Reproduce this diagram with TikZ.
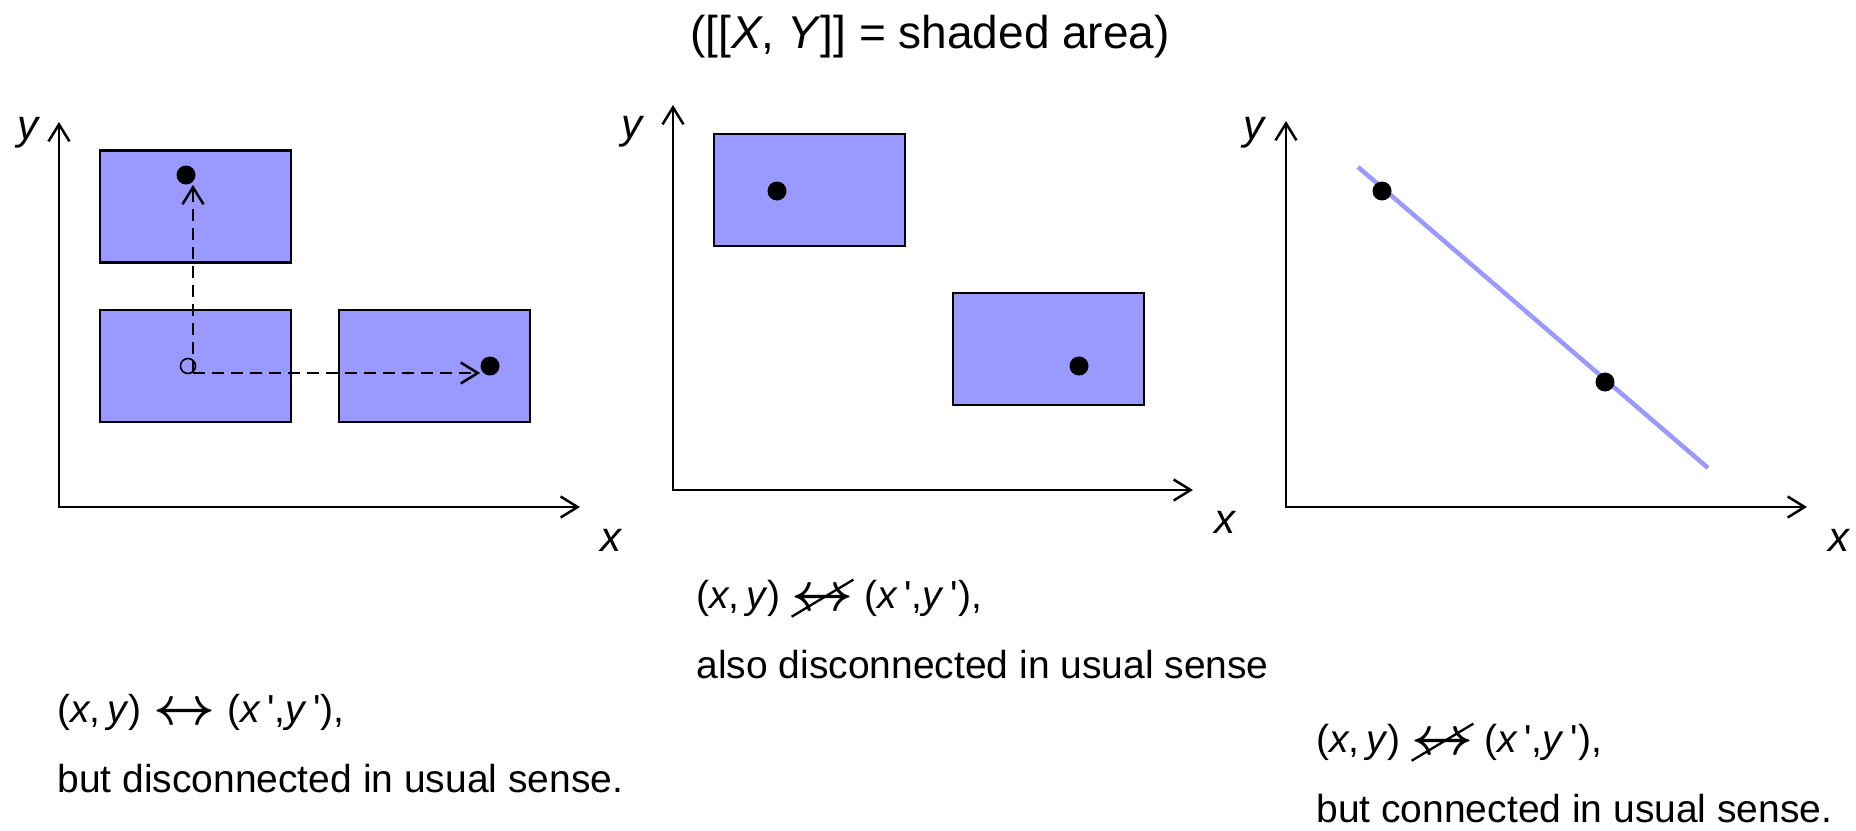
\documentclass[tikz,border=0pt]{standalone}
\usepackage{fontspec}
\setmainfont{Liberation Sans}
\usetikzlibrary{arrows.meta, positioning}
\definecolor{ShadeFill}{HTML}{9999FF}

\newcommand{\pxy}{(\textit{x},\,\textit{y})}
\newcommand{\pxyp}{(\textit{x}\,\textquotesingle,\textit{y}\,\textquotesingle)}
\newcommand{\lrarr}{\raisebox{-0.07em}{\scalebox{1.3}[1.3]{\boldmath$\leftrightarrow$}}}
\newcommand{\nlrarr}{\ooalign{\lrarr\cr\hidewidth\raisebox{-0.25em}{\rotatebox{31}{\rule{1.85em}{0.06em}}}\hidewidth\cr}}

\begin{document}
\begin{tikzpicture}[
    x=0.5pt, y=-0.5pt,
    region/.style={
        rectangle, draw=black, line width=1.2pt, fill=ShadeFill,
        minimum width=95.5pt, minimum height=56pt, inner sep=0pt
    },
    dot/.style={circle, fill=black, inner sep=0pt, minimum size=9.5pt},
    hollow/.style={circle, draw=black, line width=0.8pt, inner sep=0pt,
                   minimum size=7.5pt},
    axisline/.style={{Straight Barb[length=8.5pt, width=10.5pt]}-{Straight Barb[length=8.5pt, width=10.5pt]},
                     line width=1.25pt},
    jump/.style={-{Straight Barb[length=8.5pt, width=10.5pt]}, line width=1.25pt,
                 dash pattern=on 6pt off 3.5pt},
    axlabel/.style={font=\fontsize{21}{25}\selectfont\itshape, inner sep=0pt},
    note/.style={font=\fontsize{19.5}{24}\selectfont, anchor=base west,
                 inner sep=0pt}
]
\useasboundingbox (0,0) rectangle (1856,830);

% ===================================================================
% TITLE
% ===================================================================
\node[font=\fontsize{23}{28}\selectfont, anchor=base, inner sep=0pt] (title)
    at (930,48) {([[\textit{X}, \textit{Y}]] = shaded area)};

% ===================================================================
% AXES
% ===================================================================
\coordinate (ya) at (59,122);   \coordinate (xa) at (580,507);
\coordinate (yb) at (673,105);  \coordinate (xb) at (1193,490);
\coordinate (yc) at (1286,121); \coordinate (xc) at (1807,507);

\foreach \a/\b in {ya/xa, yb/xb, yc/xc} {
    \draw[axisline] (\a) |- (\b);
}

\node[axlabel] (ylaba) at (28,133) {y};
\node[axlabel] (xlaba) at (611,540) {x};
\node[axlabel] (ylabb) at (632,132) {y};
\node[axlabel] (xlabb) at (1225,522) {x};
\node[axlabel] (ylabc) at (1254,133) {y};
\node[axlabel] (xlabc) at (1839,540) {x};

% ===================================================================
% PANEL 1: connected through the relation
% ===================================================================
\node[region] (topa)   at (195.5,206.5) {};
\node[region] (lowa)   at (195.5,366) {};
\node[region] (righta) at (434.5,366) {};

\node[hollow] (start) at (188,366) {};
\node[dot] (ptop)   at (186,175) {};
\node[dot] (pright) at (490,366) {};
\coordinate (corner) at (193,373);

\draw[jump] (corner) -- (corner |- ptop.south);
\draw[jump] (corner) -- (corner -| pright.west);

% ===================================================================
% PANEL 2: two separate blocks
% ===================================================================
\node[region] (upb)  at (809.5,190) {};
\node[region] (lowb) at (1048.5,349) {};
\node[dot] (pb1) at (777,191) {};
\node[dot] (pb2) at (1079,366) {};

% ===================================================================
% PANEL 3: a line
% ===================================================================
\coordinate (lstart) at (1358,167);
\coordinate (lend)   at (1708,468);
\draw[ShadeFill, line width=2.25pt] (lstart) -- (lend);
\node[dot] (pc1) at (1382,191) {};
\node[dot] (pc2) at (1605,382) {};

% ===================================================================
% CAPTIONS
% ===================================================================
\node[note] (capa1) at (57,722) {\pxy\kern0.3em\lrarr\kern0.3em\pxyp,};
\node[note] (capa2) at ([yshift=-35pt]capa1.base west)
    {but disconnected in usual sense.};

\node[note] (capb1) at (696,608) {\pxy\ \nlrarr\ \pxyp,};
\node[note] (capb2) at ([yshift=-35pt]capb1.base west)
    {also disconnected in usual sense};

\node[note] (capc1) at (1316,752) {\pxy\ \nlrarr\ \pxyp,};
\node[note] (capc2) at ([yshift=-35pt]capc1.base west)
    {but connected in usual sense.};

\end{tikzpicture}
\end{document}
